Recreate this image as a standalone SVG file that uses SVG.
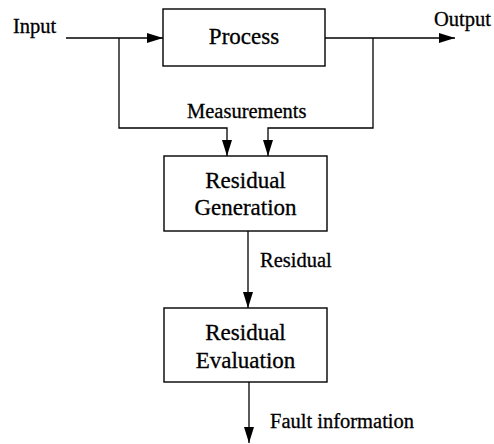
<svg xmlns="http://www.w3.org/2000/svg" width="494" height="444" viewBox="0 0 494 444">
<defs>
<marker id="arr" markerWidth="16" markerHeight="10" refX="16" refY="5" orient="auto" markerUnits="userSpaceOnUse">
<path d="M0,0 L16,5 L0,10 Z" fill="#000"/>
</marker>
<style>
.box{fill:#fff;stroke:#000;stroke-width:1.4}
.ln{fill:none;stroke:#000;stroke-width:1.3}
.bt{font-family:"Liberation Serif",serif;font-size:23px;fill:#000;stroke:#000;stroke-width:0.3;text-anchor:middle}
.lb{font-family:"Liberation Serif",serif;font-size:20.5px;fill:#000;stroke:#000;stroke-width:0.3}
</style>
</defs>
<rect width="494" height="444" fill="#fff"/>
<g id="connectors">
<path class="ln" d="M66,38 H163" marker-end="url(#arr)"/>
<path class="ln" d="M325,38 H455" marker-end="url(#arr)"/>
<path class="ln" d="M119,38 V128 H227 V156" marker-end="url(#arr)"/>
<path class="ln" d="M373,38 V128 H268 V156" marker-end="url(#arr)"/>
<path class="ln" d="M248,231 V308" marker-end="url(#arr)"/>
<path class="ln" d="M249,382 V443" marker-end="url(#arr)"/>
</g>
<g id="labels">
<text class="lb" x="13" y="33">Input</text>
<text class="lb" x="434" y="26">Output</text>
<text class="lb" x="187" y="118">Measurements</text>
<text class="lb" x="260" y="267">Residual</text>
<text class="lb" x="270" y="428">Fault information</text>
</g>
<g id="process">
<rect class="box" x="163" y="9" width="162" height="57"/>
<text class="bt" x="244" y="44">Process</text>
</g>
<g id="residual-generation">
<rect class="box" x="164" y="156" width="163" height="75"/>
<text class="bt" x="245.5" y="188">Residual</text>
<text class="bt" x="245.5" y="215">Generation</text>
</g>
<g id="residual-evaluation">
<rect class="box" x="164" y="308" width="163" height="74"/>
<text class="bt" x="245.5" y="340">Residual</text>
<text class="bt" x="245.5" y="368">Evaluation</text>
</g>
</svg>
